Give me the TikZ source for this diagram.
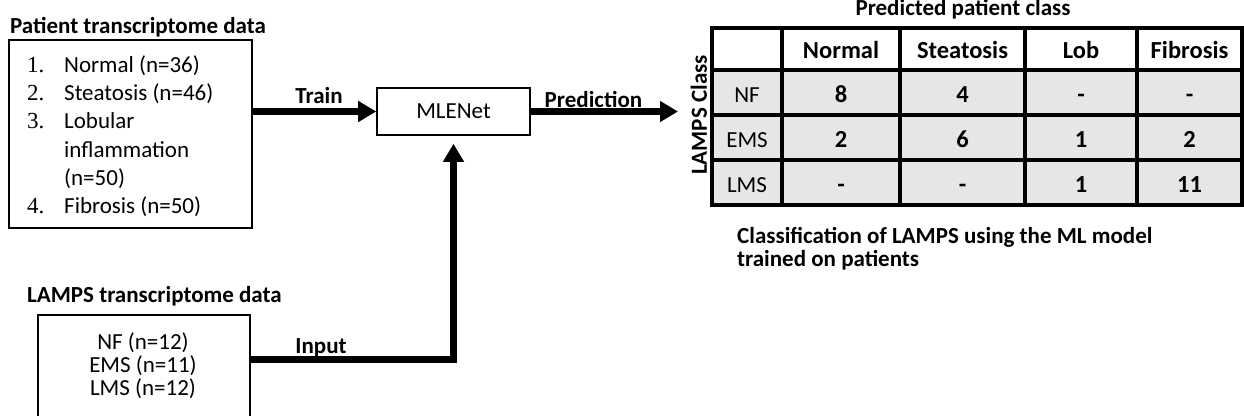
\documentclass[tikz,border=0pt]{standalone}
\usepackage{fontspec}
\setmainfont{Carlito}
\newfontfamily\numfont{Liberation Serif}
\usetikzlibrary{arrows.meta}
\definecolor{tblgray}{RGB}{230,230,230}
\begin{document}
\begin{tikzpicture}[x=1pt,y=-1pt,
  txt/.style={font=\fontsize{23}{28}\selectfont, inner sep=0pt},
  btxt/.style={font=\fontsize{23}{28}\selectfont\bfseries, inner sep=0pt},
  tbtxt/.style={font=\fontsize{24.5}{28}\selectfont\bfseries, inner sep=0pt},
  numtxt/.style={font=\fontsize{23}{28}\selectfont\numfont, inner sep=0pt},
  box/.style={draw, line width=1.6pt, inner sep=0pt},
  arr/.style={line width=6.5pt, -{Triangle[length=18pt,width=20pt]}},
  gridline/.style={line width=3.5pt}]
\useasboundingbox (0,0) rectangle (1244,415);

% Patient box
\node[btxt, anchor=base west] (pt) at (10,33) {Patient transcriptome data};
\node[box, minimum width=243pt, minimum height=188pt] (patient) at (130.5,134) {};
\node[numtxt, anchor=base west] (n1) at (27,72) {1.};
\node[numtxt, anchor=base west] (n2) at (27,100) {2.};
\node[numtxt, anchor=base west] (n3) at (27,128) {3.};
\node[numtxt, anchor=base west] (n4) at (27,213) {4.};
\node[txt, anchor=base west] (l1) at (64,72) {Normal (n=36)};
\node[txt, anchor=base west] (l2) at (64,100) {Steatosis (n=46)};
\node[txt, anchor=base west] (l3a) at (64,128) {Lobular};
\node[txt, anchor=base west] (l3b) at (64,157) {inflammation};
\node[txt, anchor=base west] (l3c) at (64,185) {(n=50)};
\node[txt, anchor=base west] (l4) at (64,213) {Fibrosis (n=50)};

% LAMPS box
\node[btxt, anchor=base west] (lt) at (27,302) {LAMPS transcriptome data};
\node[box, minimum width=212pt, minimum height=110pt] (lamps) at (144,370) {};
\node[txt, anchor=base] (m1) at (143,349) {NF (n=12)};
\node[txt, anchor=base] (m2) at (143,372) {EMS (n=11)};
\node[txt, anchor=base] (m3) at (143,395) {LMS (n=12)};

% MLENet
\node[box, txt, minimum width=153pt, minimum height=47pt] (mlenet) at (453.5,111.5) {MLENet};

% Table label + end of prediction arrow
\node[btxt, rotate=90] (lampsclass) at (699,115) {LAMPS Class};
\coordinate (predend) at (678,111.5);

% Arrows
\draw[arr] (mlenet.west -| patient.east) -- (mlenet.west);
\draw[arr] (mlenet.east) -- (predend);
\draw[arr, shorten >=8pt] ([yshift=10.5pt]lamps.east) -| (mlenet.south);
\node[btxt, anchor=base] (trainlbl) at (319,103) {Train};
\node[btxt, anchor=base] (predlbl) at (593.5,107) {Prediction};
\node[btxt, anchor=base] (inputlbl) at (321,353) {Input};

% Table
\node[btxt, anchor=base] (tabtitle) at (963,15) {Predicted patient class};
\fill[tblgray] (712,70) rectangle (1242,205);
\draw[gridline] (712,28) rectangle (1242,205);
\foreach \y in {70,115,160} \draw[gridline] (712,\y) -- (1242,\y);
\foreach \x in {782,900,1025,1137} \draw[gridline] (\x,28) -- (\x,205);

\node[tbtxt, anchor=base] (h1) at (841,58) {Normal};
\node[tbtxt, anchor=base] (h2) at (962.5,58) {Steatosis};
\node[tbtxt, anchor=base] (h3) at (1081,58) {Lob};
\node[tbtxt, anchor=base] (h4) at (1189.5,58) {Fibrosis};

\node[txt, anchor=base] (r1) at (747,102) {NF};
\node[txt, anchor=base] (r2) at (747,147) {EMS};
\node[txt, anchor=base] (r3) at (747,192) {LMS};

\node[tbtxt, anchor=base] (c11) at (841,102) {8};
\node[tbtxt, anchor=base] (c12) at (962.5,102) {4};
\node[tbtxt, anchor=base] (c13) at (1081,102) {-};
\node[tbtxt, anchor=base] (c14) at (1189.5,102) {-};
\node[tbtxt, anchor=base] (c21) at (841,147) {2};
\node[tbtxt, anchor=base] (c22) at (962.5,147) {6};
\node[tbtxt, anchor=base] (c23) at (1081,147) {1};
\node[tbtxt, anchor=base] (c24) at (1189.5,147) {2};
\node[tbtxt, anchor=base] (c31) at (841,192) {-};
\node[tbtxt, anchor=base] (c32) at (962.5,192) {-};
\node[tbtxt, anchor=base] (c33) at (1081,192) {1};
\node[tbtxt, anchor=base] (c34) at (1189.5,192) {11};

% Caption
\node[btxt, anchor=base west] (cap1) at (737,243) {Classification of LAMPS using the ML model};
\node[btxt, anchor=base west] (cap2) at (737,266) {trained on patients};
\end{tikzpicture}
\end{document}
